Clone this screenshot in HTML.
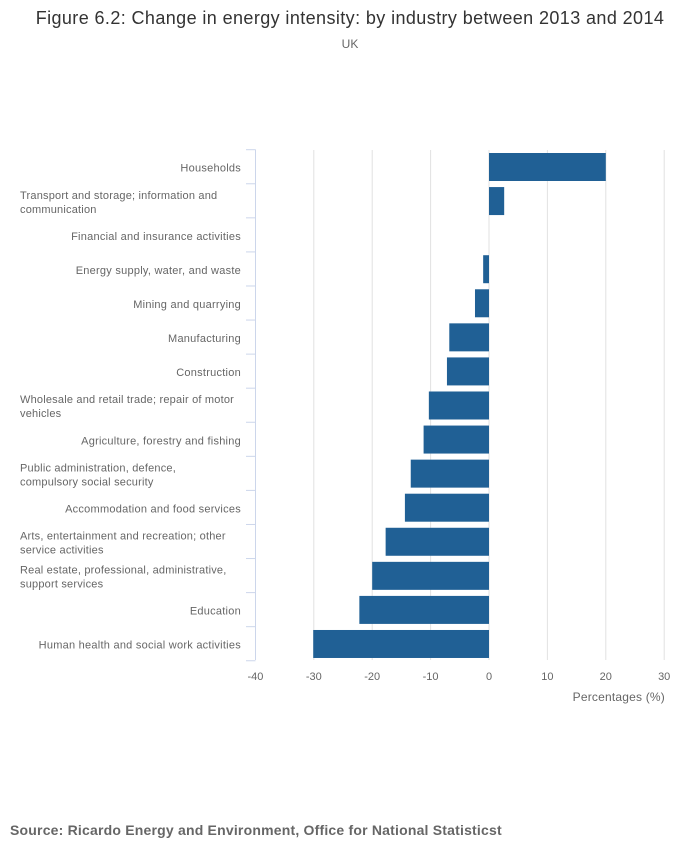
<!DOCTYPE html>
<html><head><meta charset="utf-8"><style>
body{margin:0;background:#fff;font-family:"Liberation Sans",sans-serif;}
</style></head><body>
<svg id="c" width="700" height="857" xmlns="http://www.w3.org/2000/svg">
<text x="350" y="24" text-anchor="middle" font-size="18" letter-spacing="0.4" fill="#333">Figure 6.2: Change in energy intensity: by industry between 2013 and 2014</text>
<text x="350" y="48" text-anchor="middle" font-size="12" fill="#666">UK</text>
<text x="10" y="835" font-size="14" font-weight="bold" letter-spacing="0.2" fill="#666">Source: Ricardo Energy and Environment, Office for National Statisticst</text>
<g id="g"></g>
</svg>
<script>
const categories=[["Households"],["Transport and storage; information and","communication"],["Financial and insurance activities"],["Energy supply, water, and waste"],["Mining and quarrying"],["Manufacturing"],["Construction"],["Wholesale and retail trade; repair of motor","vehicles"],["Agriculture, forestry and fishing"],["Public administration, defence,","compulsory social security"],["Accommodation and food services"],["Arts, entertainment and recreation; other","service activities"],["Real estate, professional, administrative,","support services"],["Education"],["Human health and social work activities"]];
const values=[20,2.6,0,-1,-2.4,-6.8,-7.2,-10.3,-11.2,-13.4,-14.4,-17.7,-20,-22.2,-30.1];
const ticks=[-40,-30,-20,-10,0,10,20,30];
const NS="http://www.w3.org/2000/svg",g=document.getElementById('g');
const x=v=>489+(v)*5.84;
const top0=149.7,rowH=34.07;
const y=i=>top0+i*rowH;
function mk(t,a,p){const e=document.createElementNS(NS,t);for(const k in a)e.setAttribute(k,a[k]);(p||g).appendChild(e);return e;}
ticks.forEach(t=>{
 if(t>-40){const l=mk('line',{x1:x(t),x2:x(t),y1:150,y2:660,stroke:'#e2e2e2','stroke-width':1});
 
 }
 const tx=mk('text',{x:x(t),y:680,'text-anchor':'middle','font-size':11,fill:'#666'});tx.textContent=t;
 
 
});
const ax=mk('line',{x1:255.5,x2:255.5,y1:149.5,y2:660,stroke:'#ccd6eb','stroke-width':1});


for(let i=0;i<=categories.length;i++){const tk=mk('line',{x1:246,x2:255.5,y1:y(i),y2:y(i),stroke:'#ccd6eb'});
 
 }
categories.forEach((c,i)=>{
 const v=values[i];const r=mk('rect',{x:Math.min(x(0),x(v)),y:y(i)+3.3,width:Math.abs(x(v)-x(0)),height:28,fill:'#206095'});
 
 
 const cy=y(i)+rowH/2;
 if(c.length==1){const t=mk('text',{x:241,y:cy+5,'text-anchor':'end','font-size':11,'letter-spacing':0.25,fill:'#666'});t.textContent=c[0];
  
  }
 else c.forEach((s,j)=>{const t=mk('text',{x:20,y:cy-2+j*14,'font-size':11,'letter-spacing':0.2,fill:'#666'});t.textContent=s;
  
  });
});
const at=mk('text',{x:665,y:701,'text-anchor':'end','font-size':12,'letter-spacing':0.2,fill:'#666'});at.textContent='Percentages (%)';


</script>
</body></html>
